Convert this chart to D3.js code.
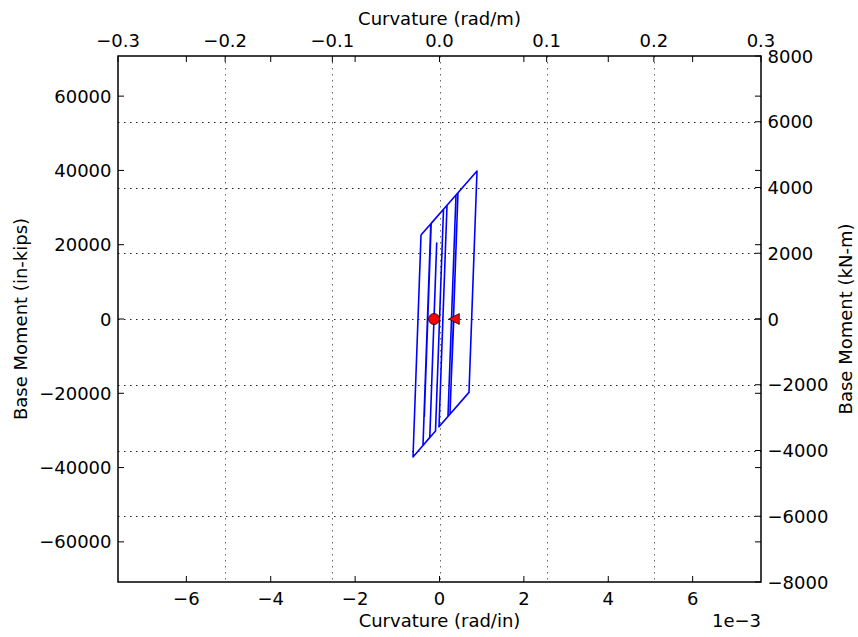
<!DOCTYPE html>
<html>
<head>
<meta charset="utf-8">
<script src="https://cdn.jsdelivr.net/npm/d3@7/dist/d3.min.js"></script>
<style>
  html, body { margin: 0; padding: 0; background: #fff; }
  svg text { font-family: "DejaVu Sans", sans-serif; fill: #000; }
</style>
</head>
<body>
<svg id="chart" width="858" height="637"></svg>
<script>
// Moment–curvature history at the column base
const curvature = [-0.000130, -0.0000664, -0.000230, -0.000391, -0.000206, -0.000360, -0.000197,
                   0.0000948, -0.0000948, -0.000628, -0.000438, 0.000889, 0.000699, -0.0000119,
                   0.000178, 0.000391, 0.000201, 0.000391, 0.000438, 0.000249,
                   0.000401, 0.000278, 0.000339];   // rad/in
const moment    = [0, 20460, -31850, -34030, 25630, -26250, 25740,
                   29530, -30150, -37150, 22610, 39840, -19760, -29020,
                   30610, 33380, -26220, 33380, 34000, -25600,
                   22080, -16420, 0];                // in-kips

// Tick values
const xTicksIn  = [-0.006, -0.004, -0.002, 0, 0.002, 0.004, 0.006];
const xTicksM   = [-0.3, -0.2, -0.1, 0.0, 0.1, 0.2, 0.3];
const yTicksKip = [-60000, -40000, -20000, 0, 20000, 40000, 60000];
const yTicksKN  = [-8000, -6000, -4000, -2000, 0, 2000, 4000, 6000, 8000];

const IN_PER_M = 39.37;
const KNM_PER_KIPIN = 0.112985;

const svg = d3.select("#chart");
const L = 118, R = 761, T = 56, B = 582;
const fs = 18;

const xM = d3.scaleLinear().domain([-0.3, 0.3]).range([L, R]);
const xIn = d3.scaleLinear().domain([-0.3 / IN_PER_M, 0.3 / IN_PER_M]).range([L, R]);
const yKN = d3.scaleLinear().domain([-8000, 8000]).range([B, T]);
const yKip = d3.scaleLinear().domain([-8000 / KNM_PER_KIPIN, 8000 / KNM_PER_KIPIN]).range([B, T]);

const fmtMinus = s => s.replace(/-/g, "\u2212");

// Grid from the metric axes
const grid = svg.append("g");
grid.selectAll("line.gx").data(xTicksM.slice(1, -1)).join("line")
  .attr("x1", d => Math.round(xM(d)) + 0.5).attr("x2", d => Math.round(xM(d)) + 0.5)
  .attr("y1", T).attr("y2", B)
  .attr("stroke", "#666").attr("stroke-width", 1).attr("stroke-dasharray", "1.5,4.5");
grid.selectAll("line.gy").data(yTicksKN.slice(1, -1)).join("line")
  .attr("y1", d => Math.round(yKN(d)) + 0.5).attr("y2", d => Math.round(yKN(d)) + 0.5)
  .attr("x1", L).attr("x2", R)
  .attr("stroke", "#222").attr("stroke-width", 1).attr("stroke-dasharray", "1.5,4.5");

// Hysteresis path
const line = d3.line().x((d, i) => xIn(curvature[i])).y((d, i) => yKip(moment[i]));
svg.append("path").datum(curvature)
  .attr("d", line).attr("fill", "none")
  .attr("stroke", "#0000ff").attr("stroke-width", 1.6).attr("stroke-linejoin", "round");

// Start and end markers
const n = curvature.length - 1;
svg.append("circle")
  .attr("cx", xIn(curvature[0])).attr("cy", yKip(moment[0])).attr("r", 5.5)
  .attr("fill", "#ff0000").attr("stroke", "#000").attr("stroke-width", 0.75);
const ex = xIn(curvature[n]), ey = yKip(moment[n]);
svg.append("path")
  .attr("d", d3.line()([[ex - 5, ey], [ex + 5.5, ey - 5.5], [ex + 5.5, ey + 5.5]]) + "Z")
  .attr("fill", "#ff0000").attr("stroke", "#000").attr("stroke-width", 0.75);

// Axes (inward ticks)
const tickLen = 6;
const axes = svg.append("g");

// bottom: rad/in, ticks on bottom and top
xTicksIn.forEach(v => {
  const x = xIn(v);
  axes.append("line").attr("x1", x).attr("x2", x).attr("y1", B).attr("y2", B - tickLen).attr("stroke", "#000");
  axes.append("line").attr("x1", x).attr("x2", x).attr("y1", T).attr("y2", T + tickLen).attr("stroke", "#000");
  axes.append("text").attr("x", x).attr("y", 605).attr("text-anchor", "middle")
    .attr("font-size", fs).text(fmtMinus(d3.format("d")(Math.round(v * 1000))));
});
// top: rad/m
xTicksM.forEach(v => {
  const x = xM(v);
  axes.append("line").attr("x1", x).attr("x2", x).attr("y1", T).attr("y2", T + tickLen).attr("stroke", "#000");
  axes.append("text").attr("x", x).attr("y", 46.5).attr("text-anchor", "middle")
    .attr("font-size", fs).text(fmtMinus(d3.format(".1f")(v)));
});
// left: in-kips, ticks on left and right
yTicksKip.forEach(v => {
  const y = yKip(v);
  axes.append("line").attr("y1", y).attr("y2", y).attr("x1", L).attr("x2", L + tickLen).attr("stroke", "#000");
  axes.append("line").attr("y1", y).attr("y2", y).attr("x1", R).attr("x2", R - tickLen).attr("stroke", "#000");
  axes.append("text").attr("x", 111.5).attr("y", y + 6.5).attr("text-anchor", "end")
    .attr("font-size", fs).text(fmtMinus(String(v)));
});
// right: kN-m
yTicksKN.forEach(v => {
  const y = yKN(v);
  axes.append("line").attr("y1", y).attr("y2", y).attr("x1", R).attr("x2", R - tickLen).attr("stroke", "#000");
  axes.append("text").attr("x", 767.5).attr("y", y + 6.5).attr("text-anchor", "start")
    .attr("font-size", fs).text(fmtMinus(String(v)));
});

// Frame
svg.append("rect").attr("x", L).attr("y", T).attr("width", R - L).attr("height", B - T)
  .attr("fill", "none").attr("stroke", "#000").attr("stroke-width", 1.5);

// Axis labels
svg.append("text").attr("x", (L + R) / 2).attr("y", 627).attr("text-anchor", "middle")
  .attr("font-size", fs).text("Curvature (rad/in)");
svg.append("text").attr("x", R).attr("y", 627).attr("text-anchor", "end")
  .attr("font-size", fs).text("1e\u22123");
svg.append("text").attr("x", (L + R) / 2).attr("y", 25).attr("text-anchor", "middle")
  .attr("font-size", fs).text("Curvature (rad/m)");
svg.append("text").attr("transform", `translate(27,${(T + B) / 2}) rotate(-90)`)
  .attr("text-anchor", "middle").attr("font-size", fs).text("Base Moment (in-kips)");
svg.append("text").attr("transform", `translate(852,${(T + B) / 2}) rotate(-90)`)
  .attr("text-anchor", "middle").attr("font-size", fs).text("Base Moment (kN-m)");
</script>
</body>
</html>
